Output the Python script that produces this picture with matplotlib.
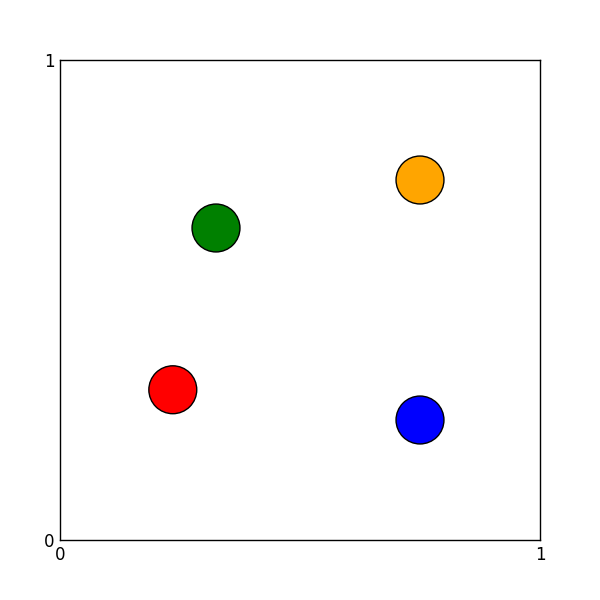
import matplotlib
matplotlib.use("Agg")
import matplotlib.pyplot as plt

x = [0.235, 0.325, 0.75, 0.75]
y = [0.313, 0.65, 0.75, 0.25]
colors = ['red', 'green', 'orange', 'blue']

fig = plt.figure(figsize=(6, 6), dpi=100)
ax = fig.add_axes([0.1, 0.1, 0.8, 0.8])
ax.scatter(x, y, s=1190, c=colors, edgecolors='black', linewidths=1, zorder=3)
ax.set_xlim(0, 1)
ax.set_ylim(0, 1)
ax.set_xticks([0, 1])
ax.set_yticks([0, 1])
ax.tick_params(length=0, pad=4, labelsize=12)
for sp in ax.spines.values():
    sp.set_linewidth(1)

fig.savefig('out.png', dpi=100)
